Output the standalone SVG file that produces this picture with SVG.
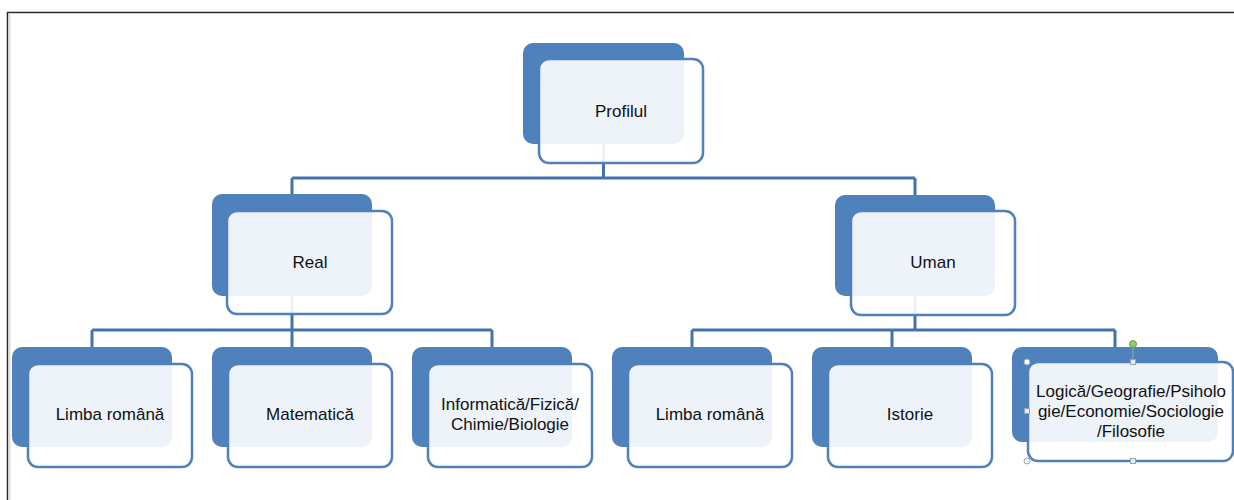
<svg xmlns="http://www.w3.org/2000/svg" width="1234" height="500" viewBox="0 0 1234 500">
<style>
.back{fill:#4F81BD}
.front{fill:#FFFFFF;fill-opacity:0.9;stroke:#4F81BD;stroke-width:2.5}
.lbl{font-family:"Liberation Sans",Arial,sans-serif;font-size:17px;fill:#111;text-anchor:middle}
.conn{fill:none;stroke:#4472AF;stroke-width:3}
.hnd{fill:#FFFFFF;stroke:#9AA6B4;stroke-width:1}
.hsq{fill:#E3EDF8;stroke:#9AA6B4;stroke-width:1}
</style>
<rect x="0" y="0" width="1234" height="500" fill="#FFFFFF"/>
<g id="frame">
<line x1="7" y1="12.5" x2="1234" y2="12.5" stroke="#2A2A2A" stroke-width="1.5"/>
<line x1="7.5" y1="12" x2="7.5" y2="500" stroke="#2A2A2A" stroke-width="1.5"/>
<line x1="9.5" y1="13" x2="9.5" y2="500" stroke="#DDDDDD" stroke-width="2"/>
</g>
<g id="connectors">
<path class="conn" d="M603.5 143 V178 M292 178 H915 M292 178 V195 M915 178 V195"/>
<path class="conn" d="M292 296 V330 M92 330 H492 M92 330 V347 M292 330 V347 M492 330 V347"/>
<path class="conn" d="M915 296 V330 M692 330 H1115 M692 330 V347 M892 330 V347 M1115 330 V347"/>
</g>
<g id="node-profilul">
<rect class="back" x="523" y="43" width="161" height="101" rx="10"/>
<rect class="front" x="539" y="59" width="164" height="104" rx="10"/>
<text class="lbl" x="621" y="117">Profilul</text>
</g>
<g id="node-real">
<rect class="back" x="212" y="194" width="160" height="102" rx="10"/>
<rect class="front" x="227" y="211" width="165" height="103" rx="10"/>
<text class="lbl" x="310" y="268">Real</text>
</g>
<g id="node-uman">
<rect class="back" x="835" y="195" width="160" height="101" rx="10"/>
<rect class="front" x="851" y="211" width="164" height="104" rx="10"/>
<text class="lbl" x="933" y="268">Uman</text>
</g>
<g id="node-limba1">
<rect class="back" x="12" y="347" width="160" height="100" rx="10"/>
<rect class="front" x="28" y="364" width="164" height="103" rx="10"/>
<text class="lbl" x="110" y="420">Limba română</text>
</g>
<g id="node-matematica">
<rect class="back" x="212" y="347" width="160" height="100" rx="10"/>
<rect class="front" x="228" y="364" width="164" height="103" rx="10"/>
<text class="lbl" x="310" y="420">Matematică</text>
</g>
<g id="node-informatica">
<rect class="back" x="412" y="347" width="160" height="100" rx="10"/>
<rect class="front" x="428" y="364" width="164" height="103" rx="10"/>
<text class="lbl" x="510" y="410">Informatică/Fizică/</text>
<text class="lbl" x="510" y="430">Chimie/Biologie</text>
</g>
<g id="node-limba2">
<rect class="back" x="612" y="347" width="160" height="100" rx="10"/>
<rect class="front" x="628" y="364" width="164" height="103" rx="10"/>
<text class="lbl" x="710" y="420">Limba română</text>
</g>
<g id="node-istorie">
<rect class="back" x="812" y="347" width="160" height="100" rx="10"/>
<rect class="front" x="828" y="364" width="164" height="103" rx="10"/>
<text class="lbl" x="910" y="420">Istorie</text>
</g>
<g id="node-logica">
<rect class="back" x="1012" y="347" width="206" height="95" rx="10"/>
<rect class="front" x="1028" y="362" width="205" height="99" rx="10"/>
<text class="lbl" x="1131" y="397">Logică/Geografie/Psiholo</text>
<text class="lbl" x="1131" y="417">gie/Economie/Sociologie</text>
<text class="lbl" x="1131" y="437">/Filosofie</text>
</g>
<g id="selection-handles">
<line x1="1133" y1="347" x2="1133" y2="362" stroke="#9AA6B4" stroke-width="1"/>
<circle cx="1133" cy="344" r="3.5" fill="#8ED160" stroke="#6E9A50" stroke-width="1"/>
<circle class="hnd" cx="1027" cy="362" r="3"/>
<circle class="hnd" cx="1027" cy="461" r="3"/>
<rect class="hsq" x="1130.5" y="359.5" width="5" height="5"/>
<rect class="hsq" x="1024.5" y="408.5" width="5" height="5"/>
<rect class="hsq" x="1130.5" y="458.5" width="5" height="5"/>
</g>
</svg>
